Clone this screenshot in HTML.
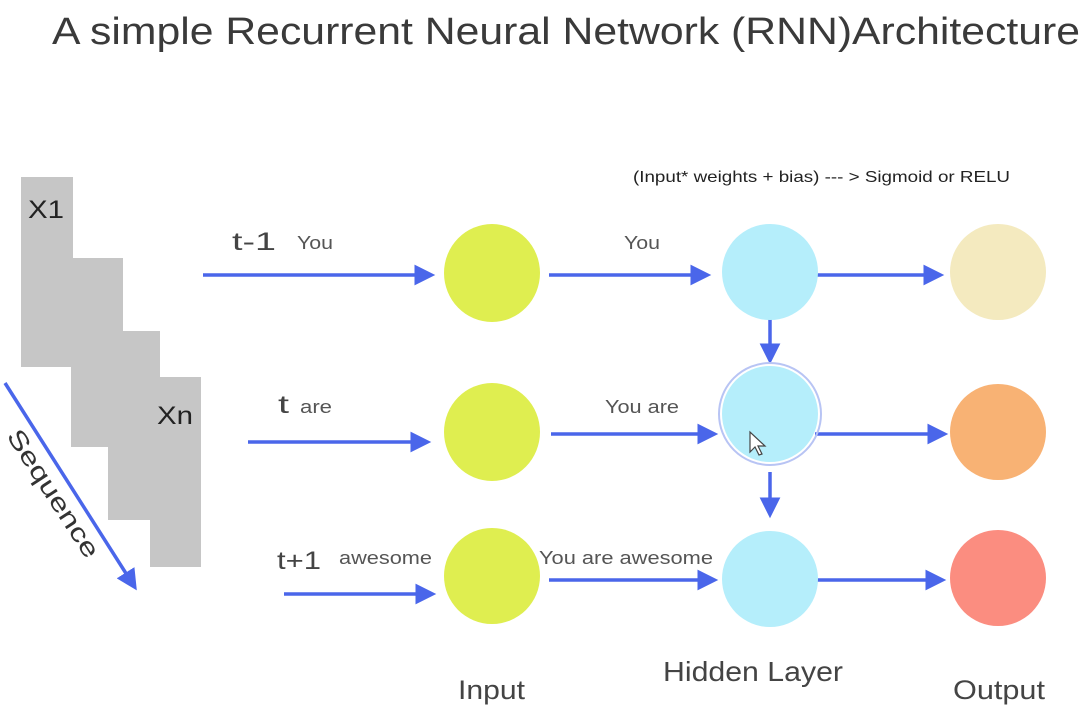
<!DOCTYPE html>
<html><head><meta charset="utf-8"><style>
html,body{margin:0;padding:0;background:#fff;}
svg{display:block;font-family:"Liberation Sans",sans-serif;}
</style></head><body>
<svg width="1084" height="709" viewBox="0 0 1084 709" xmlns="http://www.w3.org/2000/svg">
<defs>
<marker id="a" markerWidth="6" markerHeight="6" refX="4.5" refY="3" orient="auto" markerUnits="strokeWidth">
<path d="M0,0 L6,3 L0,6 z" fill="#4a66ea"/></marker>
</defs>
<rect width="1084" height="709" fill="#fff"/>
<text x="52" y="44" font-size="38" fill="#3a3a3a" textLength="1028" lengthAdjust="spacingAndGlyphs">A simple Recurrent Neural Network (RNN)Architecture</text>

<g fill="#c6c6c6">
<rect x="21" y="177" width="52" height="190"/>
<rect x="71" y="258" width="52" height="189"/>
<rect x="108" y="331" width="52" height="189"/>
<rect x="150" y="377" width="51" height="190"/>
</g>
<text x="28" y="218" font-size="25" fill="#222" textLength="36" lengthAdjust="spacingAndGlyphs">X1</text>
<text x="157" y="424" font-size="25" fill="#222" textLength="36" lengthAdjust="spacingAndGlyphs">Xn</text>
<line x1="5" y1="383" x2="134" y2="586" stroke="#4a66ea" stroke-width="3.5" marker-end="url(#a)"/>
<text x="0" y="0" font-size="25" fill="#333" transform="translate(6,436) rotate(57)" textLength="148" lengthAdjust="spacingAndGlyphs">Sequence</text>

<text x="633" y="182" font-size="16" fill="#222" textLength="377" lengthAdjust="spacingAndGlyphs">(Input* weights + bias) --- &gt; Sigmoid or RELU</text>

<g stroke="#4a66ea" stroke-width="3.5" marker-end="url(#a)">
<line x1="203" y1="275" x2="430" y2="275"/>
<line x1="549" y1="275" x2="706" y2="275"/>
<line x1="812" y1="275" x2="939" y2="275"/>
<line x1="248" y1="442" x2="426" y2="442"/>
<line x1="551" y1="434" x2="713" y2="434"/>
<line x1="815" y1="434" x2="943" y2="434"/>
<line x1="284" y1="594" x2="431" y2="594"/>
<line x1="549" y1="580" x2="713" y2="580"/>
<line x1="813" y1="580" x2="941" y2="580"/>
<line x1="770" y1="318" x2="770" y2="359"/>
<line x1="770" y1="472" x2="770" y2="513"/>
</g>

<g fill="#dfee50">
<ellipse cx="492" cy="273" rx="48" ry="49"/>
<ellipse cx="492" cy="432" rx="48" ry="49"/>
<ellipse cx="492" cy="576" rx="48" ry="48"/>
</g>
<g fill="#b5eefb">
<circle cx="770" cy="272" r="48"/>
<circle cx="770" cy="414" r="48"/>
<circle cx="770" cy="579" r="48"/>
</g>
<circle cx="770" cy="414" r="51" fill="none" stroke="#b8c4f4" stroke-width="2"/>
<path d="M750,432 L750,452 L755,447 L759,455 L762,454 L758,446 L765,446 z" fill="#fff" stroke="#444" stroke-width="1.2"/>
<circle cx="998" cy="272" r="48" fill="#f4eabf"/>
<circle cx="998" cy="432" r="48" fill="#f8b274"/>
<circle cx="998" cy="578" r="48" fill="#fb8d80"/>

<g fill="#444">
<text x="232" y="250" font-size="25" textLength="44" lengthAdjust="spacingAndGlyphs">t-1</text>
<text x="297" y="249" font-size="18" fill="#555" textLength="36" lengthAdjust="spacingAndGlyphs">You</text>
<text x="624" y="249" font-size="18" fill="#555" textLength="36" lengthAdjust="spacingAndGlyphs">You</text>
<text x="278" y="413" font-size="25" textLength="11" lengthAdjust="spacingAndGlyphs">t</text>
<text x="300" y="413" font-size="18" fill="#555" textLength="32" lengthAdjust="spacingAndGlyphs">are</text>
<text x="605" y="413" font-size="18" fill="#555" textLength="74" lengthAdjust="spacingAndGlyphs">You are</text>
<text x="277" y="569" font-size="25" textLength="44" lengthAdjust="spacingAndGlyphs">t+1</text>
<text x="339" y="564" font-size="18" fill="#555" textLength="93" lengthAdjust="spacingAndGlyphs">awesome</text>
<text x="539" y="564" font-size="18" fill="#555" textLength="174" lengthAdjust="spacingAndGlyphs">You are awesome</text>
<text x="458" y="699" font-size="27" textLength="67" lengthAdjust="spacingAndGlyphs">Input</text>
<text x="663" y="681" font-size="28" textLength="180" lengthAdjust="spacingAndGlyphs">Hidden Layer</text>
<text x="953" y="699" font-size="27" textLength="92" lengthAdjust="spacingAndGlyphs">Output</text>
</g>
</svg>
</body></html>
